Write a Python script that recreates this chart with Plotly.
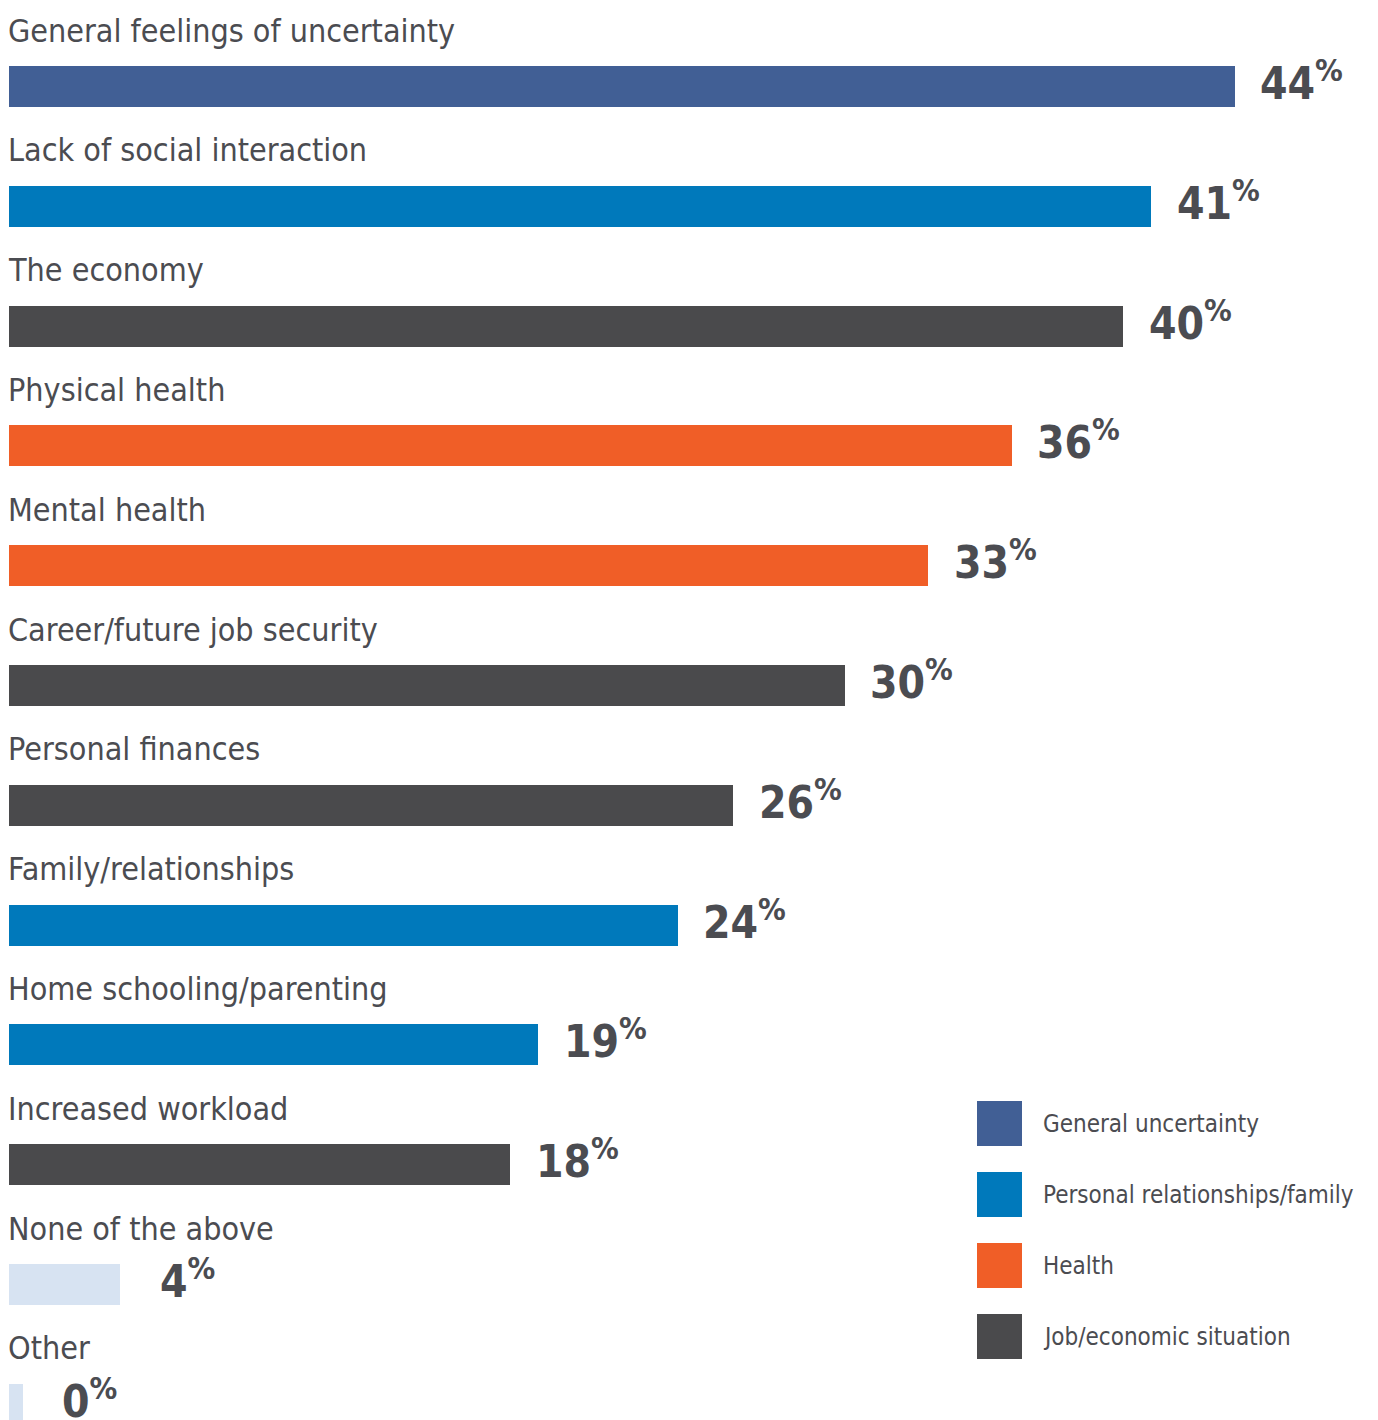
import plotly.graph_objects as go

categories = [
    "General feelings of uncertainty",
    "Lack of social interaction",
    "The economy",
    "Physical health",
    "Mental health",
    "Career/future job security",
    "Personal finances",
    "Family/relationships",
    "Home schooling/parenting",
    "Increased workload",
    "None of the above",
    "Other",
]
values = [44, 41, 40, 36, 33, 30, 26, 24, 19, 18, 4, 0]
groups = ["general", "personal", "job", "health", "health", "job", "job",
          "personal", "personal", "job", "none", "none"]

legend_labels = ["General uncertainty", "Personal relationships/family",
                 "Health", "Job/economic situation"]
legend_groups = ["general", "personal", "health", "job"]

colors = {
    "general": "#415f95",
    "personal": "#0079bb",
    "health": "#f05e27",
    "job": "#4a4a4c",
    "none": "#d7e3f2",
}
TEXT = "#4b4c51"
FONT = "DejaVu Sans Condensed, Liberation Sans Narrow, sans-serif"

W, H = 1378, 1420
MIN_VIS = 0.5  # minimal visible length for zero-valued bar

ypos = list(range(len(categories)))
disp = [max(v, MIN_VIS) for v in values]

fig = go.Figure()
fig.add_trace(go.Bar(
    x=disp, y=ypos, orientation="h",
    marker=dict(color=[colors[g] for g in groups], line=dict(width=0)),
    width=0.342, hoverinfo="skip", showlegend=False,
))

annotations = []
for i, (c, v, d) in enumerate(zip(categories, values, disp)):
    annotations.append(dict(
        x=0, y=i, xref="x", yref="y", text=c, showarrow=False,
        xanchor="left", yanchor="middle", yshift=56, xshift=-3,
        font=dict(family=FONT, size=32, color=TEXT),
    ))
    annotations.append(dict(
        x=d, y=i, xref="x", yref="y",
        text=f"<b>{v}</b><sup><b>%</b></sup>", showarrow=False,
        xanchor="center", yanchor="middle", xshift=67, yshift=6,
        font=dict(family=FONT, size=44, color=TEXT),
    ))

shapes = []
leg_x0, leg_size = 977, 45
leg_y0, leg_step = 1101, 71
for k, (lab, g) in enumerate(zip(legend_labels, legend_groups)):
    top = leg_y0 + k * leg_step
    shapes.append(dict(
        type="rect", xref="paper", yref="paper",
        x0=leg_x0 / W, x1=(leg_x0 + leg_size) / W,
        y0=1 - (top + leg_size) / H, y1=1 - top / H,
        fillcolor=colors[g], line=dict(width=0),
    ))
    annotations.append(dict(
        x=1041 / W, y=1 - (top + leg_size / 2) / H, xref="paper", yref="paper",
        text=lab, showarrow=False, xanchor="left", yanchor="middle",
        font=dict(family=FONT, size=24, color=TEXT),
    ))

px_per_unit = 27.86
x_left = 9
bar_c0, bar_step = 86.5, 119.8

fig.update_layout(
    width=W, height=H,
    margin=dict(l=0, r=0, t=0, b=0),
    paper_bgcolor="white", plot_bgcolor="white",
    xaxis=dict(range=[-x_left / px_per_unit, (W - x_left) / px_per_unit],
               visible=False, fixedrange=True),
    yaxis=dict(range=[(H - bar_c0) / bar_step, -bar_c0 / bar_step],
               visible=False, fixedrange=True),
    annotations=annotations, shapes=shapes,
    bargap=0,
)

fig.write_html(
    "out.html",
    config={"displayModeBar": False},
    post_script="document.body.style.margin='0';document.body.style.overflow='hidden';",
)
